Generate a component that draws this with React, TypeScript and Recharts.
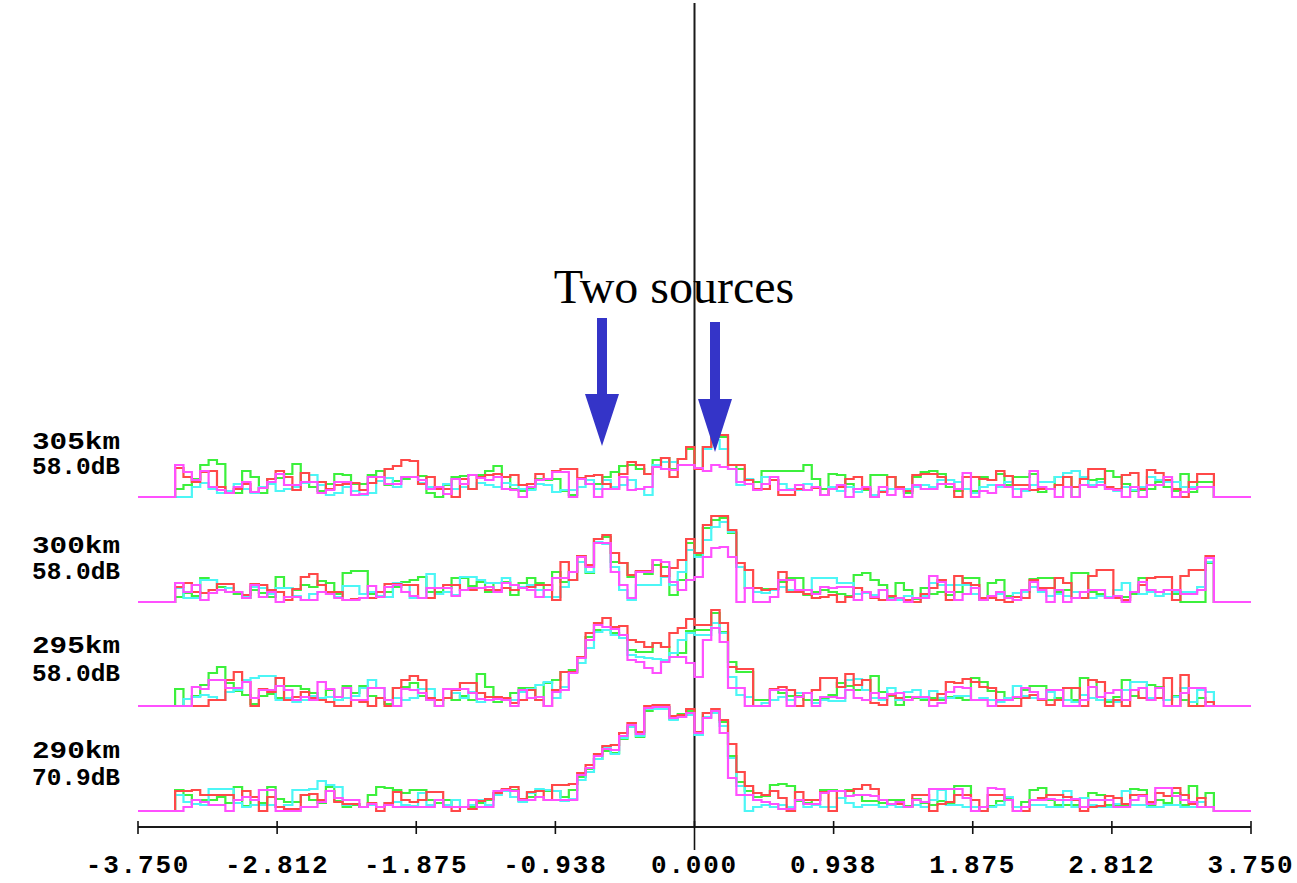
import React from 'react';
import { ComposedChart, Line, XAxis, YAxis, ReferenceLine } from 'recharts';

// ---------- axis ----------
const X_MIN = -3.75;
const X_MAX = 3.75;
const BIN_START = -3.5;
const BIN_END = 3.5;
const tickValues = [-3.75, -2.8125, -1.875, -0.9375, 0, 0.9375, 1.875, 2.8125, 3.75];
const tickLabels = ['-3.750', '-2.812', '-1.875', '-0.938', '0.000', '0.938', '1.875', '2.812', '3.750'];

// ---------- panels (range / gain) ----------
const panelRanges = ['305km', '300km', '295km', '290km'];
const panelGains = ['58.0dB', '58.0dB', '58.0dB', '70.9dB'];
// waterfall offset of each trace's zero level (y units)
const panelLevels = [330, 225, 121, 16];

// ---------- series values (124 bins each) ----------
const green305 = [
  8, 12, 18, 32, 37, 33, 6, 4, 26, 20,
  4, 18, 19, 23, 33, 15, 10, 6, 13, 23,
  22, 13, 13, 22, 26, 12, 16, 18, 20, 21,
  4, 0, 12, 20, 21, 22, 22, 26, 31, 20,
  8, 6, 8, 18, 17, 18, 6, 2, 18, 13,
  13, 20, 25, 31, 32, 28, 23, 37, 39, 28,
  38, 48, 28, 50, 60, 60, 32, 28, 17, 15,
  26, 26, 26, 26, 26, 32, 18, 8, 23, 22,
  13, 8, 7, 22, 22, 20, 8, 4, 20, 25,
  26, 23, 10, 6, 8, 6, 20, 17, 23, 12,
  20, 20, 23, 5, 8, 20, 20, 0, 12, 17,
  18, 26, 20, 13, 6, 7, 8, 15, 10, 6,
  23, 5, 15, 15,
];
const cyan305 = [
  0, 0, 10, 14, 8, 4, 6, 13, 8, 4,
  10, 13, 6, 8, 10, 14, 22, 12, 2, 4,
  10, 6, 2, 4, 16, 19, 10, 20, 20, 14,
  10, 10, 13, 8, 10, 8, 14, 12, 10, 14,
  12, 8, 7, 13, 12, 5, 7, 7, 10, 17,
  8, 17, 10, 12, 17, 8, 2, 32, 35, 35,
  32, 32, 28, 48, 57, 48, 28, 12, 18, 8,
  20, 17, 13, 8, 7, 13, 10, 2, 10, 6,
  10, 5, 8, 2, 6, 8, 8, 8, 10, 12,
  10, 17, 17, 15, 8, 4, 10, 12, 10, 15,
  8, 6, 12, 15, 15, 20, 24, 26, 20, 12,
  15, 8, 6, 10, 7, 10, 20, 17, 15, 15,
  10, 10, 10, 10,
];
const red305 = [
  29, 20, 15, 25, 26, 10, 4, 8, 13, 5,
  9, 18, 26, 20, 7, 24, 15, 15, 8, 12,
  13, 14, 7, 14, 20, 28, 31, 37, 36, 13,
  20, 8, 8, 0, 18, 8, 20, 22, 23, 20,
  22, 12, 13, 23, 18, 26, 28, 28, 19, 21,
  22, 13, 8, 23, 35, 32, 23, 30, 39, 20,
  38, 50, 28, 50, 62, 62, 32, 32, 17, 8,
  8, 17, 2, 2, 8, 7, 9, 2, 8, 10,
  18, 20, 8, 0, 5, 20, 10, 6, 22, 23,
  23, 20, 13, 0, 20, 20, 18, 17, 26, 21,
  12, 12, 7, 8, 8, 12, 20, 10, 18, 28,
  28, 10, 8, 22, 24, 8, 27, 24, 17, 8,
  0, 15, 23, 23,
];
const magenta305 = [
  32, 25, 17, 26, 10, 7, 4, 10, 15, 5,
  9, 15, 23, 12, 12, 15, 15, 4, 7, 15,
  15, 2, 3, 20, 20, 13, 13, 20, 20, 17,
  8, 10, 3, 18, 13, 22, 19, 17, 20, 8,
  7, 0, 10, 17, 18, 25, 25, 0, 18, 13,
  0, 8, 8, 20, 7, 8, 10, 30, 28, 27,
  32, 32, 29, 26, 32, 30, 28, 15, 13, 7,
  13, 20, 7, 7, 12, 7, 10, 2, 8, 12,
  0, 8, 10, 0, 10, 2, 8, 0, 12, 8,
  8, 13, 13, 8, 24, 0, 6, 4, 12, 10,
  0, 8, 26, 10, 8, 0, 10, 0, 12, 10,
  12, 8, 7, 0, 10, 0, 12, 12, 20, 0,
  5, 8, 10, 10,
];

const green300 = [
  5, 9, 6, 24, 22, 15, 10, 8, 4, 12,
  9, 5, 25, 14, 12, 17, 15, 21, 19, 8,
  29, 31, 31, 8, 5, 10, 15, 20, 22, 25,
  10, 10, 14, 24, 24, 16, 20, 10, 19, 20,
  7, 19, 24, 19, 12, 30, 20, 30, 46, 29,
  63, 65, 40, 39, 25, 30, 28, 37, 35, 7,
  22, 59, 47, 74, 82, 84, 69, 35, 14, 14,
  13, 13, 20, 24, 24, 7, 10, 12, 10, 8,
  6, 27, 29, 22, 17, 5, 19, 12, 3, 14,
  8, 10, 7, 10, 24, 24, 2, 19, 22, 6,
  5, 10, 23, 24, 24, 10, 12, 29, 29, 10,
  8, 4, 4, 5, 8, 24, 12, 10, 8, 8,
  0, 0, 0, 39,
];
const cyan300 = [
  14, 4, 4, 22, 22, 12, 14, 10, 6, 15,
  14, 8, 14, 14, 6, 2, 8, 10, 10, 5,
  16, 16, 8, 10, 6, 5, 19, 17, 4, 4,
  28, 8, 10, 7, 25, 25, 22, 19, 19, 24,
  12, 15, 17, 12, 5, 5, 15, 22, 40, 30,
  60, 58, 35, 12, 2, 17, 17, 17, 25, 17,
  30, 52, 45, 62, 75, 80, 70, 35, 14, 10,
  9, 12, 15, 12, 10, 12, 24, 24, 24, 19,
  19, 8, 9, 7, 12, 3, 2, 6, 0, 6,
  19, 17, 17, 17, 17, 8, 4, 6, 8, 4,
  9, 10, 15, 10, 6, 8, 6, 10, 10, 4,
  6, 5, 12, 19, 10, 8, 10, 6, 8, 10,
  10, 10, 15, 40,
];
const red300 = [
  15, 19, 10, 9, 12, 18, 18, 10, 7, 18,
  17, 12, 10, 2, 13, 25, 28, 17, 10, 10,
  2, 3, 4, 4, 10, 18, 18, 17, 17, 4,
  4, 14, 17, 17, 12, 12, 14, 12, 12, 14,
  12, 14, 15, 17, 17, 2, 40, 22, 46, 37,
  63, 67, 49, 39, 27, 31, 31, 42, 26, 34,
  42, 63, 49, 77, 86, 86, 72, 39, 32, 14,
  12, 13, 30, 10, 10, 8, 4, 5, 7, 0,
  5, 14, 10, 4, 2, 6, 4, 2, 0, 8,
  14, 22, 2, 26, 19, 17, 4, 4, 2, 0,
  5, 4, 22, 14, 14, 24, 19, 4, 4, 26,
  32, 32, 4, 2, 10, 17, 24, 25, 25, 2,
  26, 32, 32, 46,
];
const magenta300 = [
  19, 10, 17, 2, 9, 12, 10, 10, 4, 17,
  5, 10, 0, 5, 5, 2, 2, 10, 8, 4,
  2, 2, 4, 16, 5, 15, 17, 10, 6, 4,
  14, 14, 14, 6, 12, 14, 14, 15, 10, 19,
  17, 14, 12, 5, 12, 24, 24, 30, 45, 35,
  59, 59, 30, 17, 4, 30, 30, 42, 40, 20,
  12, 22, 25, 45, 54, 55, 45, 0, 14, 0,
  0, 5, 22, 22, 12, 12, 8, 15, 14, 15,
  15, 2, 10, 5, 12, 2, 4, 0, 4, 4,
  26, 20, 10, 2, 8, 14, 2, 6, 10, 4,
  2, 12, 20, 12, 0, 12, 0, 4, 10, 12,
  12, 4, 6, 0, 10, 20, 12, 10, 12, 12,
  8, 8, 12, 44,
];

const green295 = [
  17, 0, 10, 21, 33, 39, 23, 15, 11, 2,
  10, 12, 8, 20, 20, 17, 13, 8, 16, 6,
  20, 13, 20, 10, 8, 2, 18, 19, 23, 10,
  6, 0, 8, 6, 10, 6, 32, 19, 4, 6,
  13, 18, 18, 6, 23, 26, 34, 36, 48, 69,
  76, 76, 73, 71, 56, 54, 54, 63, 59, 49,
  53, 75, 76, 76, 93, 74, 44, 34, 34, 6,
  6, 16, 13, 10, 10, 6, 6, 8, 11, 23,
  20, 16, 16, 30, 14, 10, 1, 9, 8, 6,
  8, 6, 9, 8, 6, 28, 24, 15, 14, 8,
  8, 16, 20, 20, 6, 8, 18, 6, 28, 26,
  6, 4, 9, 26, 10, 8, 21, 19, 6, 10,
  6, 0, 8, 4,
];
const cyan295 = [
  0, 7, 9, 11, 9, 6, 14, 16, 26, 28,
  30, 30, 6, 8, 4, 6, 10, 8, 9, 6,
  8, 10, 18, 26, 18, 6, 8, 6, 8, 17,
  17, 6, 8, 13, 8, 14, 4, 6, 8, 8,
  6, 14, 17, 21, 24, 8, 19, 34, 43, 58,
  74, 76, 71, 68, 51, 49, 48, 47, 46, 53,
  66, 73, 71, 71, 83, 73, 29, 11, 9, 0,
  3, 6, 9, 6, 13, 13, 3, 6, 5, 5,
  26, 27, 16, 8, 6, 18, 6, 14, 16, 8,
  15, 8, 8, 10, 10, 6, 8, 6, 4, 8,
  20, 10, 8, 6, 14, 6, 6, 4, 11, 8,
  6, 6, 4, 16, 24, 24, 8, 8, 6, 9,
  18, 4, 16, 14,
];
const red295 = [
  0, 0, 0, 0, 6, 6, 26, 34, 24, 0,
  17, 14, 28, 6, 9, 14, 8, 6, 4, 0,
  0, 6, 4, 0, 8, 0, 18, 26, 30, 26,
  8, 6, 8, 16, 23, 23, 13, 9, 9, 8,
  3, 6, 16, 6, 0, 16, 34, 34, 49, 73,
  83, 88, 79, 80, 66, 64, 59, 63, 59, 73,
  78, 87, 81, 81, 96, 83, 39, 37, 37, 0,
  0, 17, 19, 16, 0, 13, 16, 28, 28, 19,
  32, 21, 26, 3, 1, 11, 8, 6, 9, 9,
  6, 12, 24, 23, 27, 24, 19, 18, 0, 0,
  0, 8, 11, 6, 1, 6, 18, 18, 0, 26,
  24, 0, 6, 0, 16, 8, 6, 8, 28, 0,
  31, 0, 0, 4,
];
const magenta295 = [
  0, 0, 19, 17, 26, 26, 18, 18, 24, 8,
  16, 16, 20, 16, 6, 9, 6, 24, 17, 9,
  18, 6, 6, 18, 18, 6, 0, 17, 16, 13,
  6, 0, 17, 17, 17, 13, 7, 6, 7, 6,
  0, 16, 8, 9, 0, 14, 16, 33, 48, 66,
  81, 79, 77, 71, 46, 44, 38, 33, 44, 49,
  49, 43, 29, 66, 78, 64, 18, 18, 0, 0,
  0, 16, 16, 0, 9, 13, 0, 9, 9, 8,
  16, 8, 6, 13, 8, 12, 13, 6, 9, 9,
  0, 3, 14, 19, 18, 6, 6, 0, 6, 6,
  9, 18, 14, 7, 16, 16, 0, 0, 6, 19,
  9, 13, 16, 6, 16, 18, 6, 18, 0, 0,
  13, 18, 18, 0,
];

const green290 = [
  21, 16, 7, 11, 11, 14, 8, 24, 5, 11,
  8, 24, 12, 9, 9, 16, 11, 8, 24, 10,
  4, 6, 4, 16, 24, 23, 21, 18, 21, 21,
  11, 8, 11, 4, 4, 4, 8, 11, 18, 21,
  21, 10, 14, 20, 20, 20, 14, 21, 34, 42,
  52, 60, 58, 72, 84, 74, 100, 104, 104, 92,
  97, 100, 78, 98, 100, 89, 55, 29, 20, 14,
  15, 26, 27, 25, 10, 8, 11, 21, 21, 13,
  21, 16, 10, 10, 8, 11, 11, 5, 12, 8,
  6, 10, 8, 25, 25, 4, 4, 5, 10, 12,
  4, 9, 21, 23, 11, 6, 6, 6, 4, 18,
  16, 6, 6, 6, 22, 21, 6, 11, 8, 18,
  6, 25, 13, 18,
];
const cyan290 = [
  16, 9, 7, 6, 22, 22, 22, 8, 4, 6,
  6, 6, 4, 6, 21, 21, 22, 30, 26, 24,
  6, 7, 4, 6, 4, 8, 9, 6, 5, 18,
  6, 11, 6, 11, 4, 6, 11, 6, 16, 20,
  14, 9, 18, 22, 21, 20, 10, 12, 31, 39,
  52, 64, 57, 73, 84, 75, 102, 102, 102, 91,
  94, 96, 76, 94, 98, 85, 53, 25, 0, 4,
  6, 4, 6, 4, 11, 4, 6, 4, 4, 13,
  8, 4, 6, 6, 4, 6, 4, 4, 6, 4,
  11, 21, 6, 6, 4, 4, 0, 4, 6, 14,
  4, 4, 6, 6, 4, 4, 20, 4, 13, 6,
  4, 4, 7, 20, 6, 6, 4, 4, 6, 6,
  4, 4, 9, 4,
];
const red290 = [
  20, 20, 21, 16, 16, 16, 16, 11, 20, 14,
  0, 14, 4, 2, 2, 16, 17, 11, 20, 9,
  7, 7, 4, 8, 0, 8, 19, 11, 9, 11,
  19, 19, 4, 0, 4, 2, 10, 12, 18, 22,
  24, 12, 19, 20, 11, 26, 26, 27, 38, 46,
  57, 65, 66, 78, 88, 79, 105, 106, 106, 95,
  96, 102, 79, 98, 102, 91, 67, 39, 25, 18,
  16, 20, 13, 0, 19, 11, 11, 19, 0, 20,
  20, 22, 26, 22, 11, 7, 7, 4, 16, 16,
  0, 7, 9, 16, 16, 11, 0, 16, 16, 11,
  0, 0, 11, 13, 16, 16, 14, 11, 0, 4,
  5, 15, 13, 7, 16, 16, 9, 18, 15, 23,
  16, 7, 13, 4,
];
const magenta290 = [
  0, 4, 11, 9, 6, 6, 0, 11, 14, 11,
  21, 21, 0, 0, 0, 4, 4, 9, 20, 13,
  11, 11, 4, 7, 4, 6, 4, 4, 4, 4,
  4, 11, 4, 4, 4, 11, 4, 4, 20, 21,
  20, 11, 11, 14, 11, 11, 11, 11, 36, 43,
  55, 62, 61, 75, 86, 77, 103, 104, 104, 93,
  94, 98, 78, 93, 100, 78, 33, 16, 16, 11,
  9, 7, 2, 2, 11, 7, 7, 18, 20, 20,
  15, 16, 16, 15, 11, 7, 9, 4, 11, 9,
  22, 22, 22, 22, 13, 0, 4, 23, 22, 11,
  0, 4, 11, 11, 12, 11, 11, 12, 4, 11,
  11, 11, 4, 4, 11, 15, 7, 23, 23, 15,
  11, 9, 4, 4,
];

const panelData = [
  { green: green305, cyan: cyan305, red: red305, magenta: magenta305 },
  { green: green300, cyan: cyan300, red: red300, magenta: magenta300 },
  { green: green295, cyan: cyan295, red: red295, magenta: magenta295 },
  { green: green290, cyan: cyan290, red: red290, magenta: magenta290 },
];

const colorOrder = ['green', 'cyan', 'red', 'magenta'] as const;
const strokeColors: Record<string, string> = {
  green: '#3cf03c',
  cyan: '#4cf6f6',
  red: '#ff4848',
  magenta: '#ff50ff',
};

// ---------- build step rows ----------
function buildRows() {
  const nBins = panelData[0].green.length;
  const w = (BIN_END - BIN_START) / nBins;
  const rows: Record<string, number>[] = [];
  const base = (x: number) => {
    const r: Record<string, number> = { x };
    panelData.forEach((p, pi) => {
      colorOrder.forEach((c) => {
        r[`p${pi}_${c}`] = panelLevels[pi];
      });
    });
    return r;
  };
  rows.push(base(X_MIN));
  for (let k = 0; k < nBins; k++) {
    const r: Record<string, number> = { x: BIN_START + k * w };
    panelData.forEach((p, pi) => {
      colorOrder.forEach((c) => {
        const v = (p as any)[c][k];
        r[`p${pi}_${c}`] = panelLevels[pi] + (v == null ? 0 : v);
      });
    });
    rows.push(r);
  }
  rows.push(base(BIN_END));
  rows.push(base(X_MAX));
  return rows;
}
const rows = buildRows();

const MONO = '"Liberation Mono", "DejaVu Sans Mono", monospace';

const AxisTick = (props: any) => {
  const { x, y, payload } = props;
  const i = tickValues.indexOf(payload.value);
  const isZero = payload.value === 0;
  return (
    <g>
      <line x1={x} x2={x} y1={y - 6} y2={isZero ? y + 23 : y + 7} stroke="#111" strokeWidth={1.6} />
      <text
        x={x}
        y={y + 46}
        textAnchor="middle"
        fontFamily={MONO}
        fontWeight="bold"
        fontSize={26}
        style={{ letterSpacing: '1.8px' }}
        fill="#000"
      >
        {tickLabels[i]}
      </text>
    </g>
  );
};

const labelY1 = [449, 553, 653, 758];
const labelY2 = [474, 579, 681, 785];

const arrowColor = '#3434c8';

export default function App() {
  return (
    <div style={{ position: 'absolute', left: 0, top: 0, width: 1297, height: 883, background: '#fff' }}>
      <ComposedChart
        width={1297}
        height={883}
        data={rows}
        margin={{ top: 3, right: 46, bottom: 0, left: 138 }}
      >
        <XAxis
          dataKey="x"
          type="number"
          domain={[X_MIN, X_MAX]}
          ticks={tickValues}
          interval={0}
          allowDataOverflow
          height={56}
          tickLine={false}
          tickSize={0}
          tickMargin={0}
          axisLine={{ stroke: '#1a1a1a', strokeWidth: 2 }}
          tick={<AxisTick />}
        />
        <YAxis hide type="number" domain={[0, 824]} allowDataOverflow />
        <ReferenceLine x={0} stroke="#1a1a1a" strokeWidth={2} />
        {panelData.map((_, pi) =>
          colorOrder.map((c) => (
            <Line
              key={`p${pi}_${c}`}
              dataKey={`p${pi}_${c}`}
              type="stepAfter"
              stroke={strokeColors[c]}
              strokeWidth={2.2}
              dot={false}
              activeDot={false}
              isAnimationActive={false}
              strokeLinejoin="miter"
            />
          ))
        )}
      </ComposedChart>
      <svg
        width={1297}
        height={883}
        style={{ position: 'absolute', left: 0, top: 0, pointerEvents: 'none' }}
      >
        {panelRanges.map((r, i) => (
          <g key={r}>
            <text x={32} y={labelY1[i]} textLength={88} lengthAdjust="spacingAndGlyphs" fontFamily={MONO} fontWeight="bold" fontSize={23} fill="#000">
              {r}
            </text>
            <text x={32} y={labelY2[i]} textLength={88} lengthAdjust="spacingAndGlyphs" fontFamily={MONO} fontWeight="bold" fontSize={23} fill="#000">
              {panelGains[i]}
            </text>
          </g>
        ))}
        <text x={674} y={303} textAnchor="middle" fontFamily='"Liberation Serif", "Times New Roman", serif' fontSize={48} fill="#000">
          Two sources
        </text>
        <polygon points="597,318 607,318 607,394 619,394 602,446 585,394 597,394" fill={arrowColor} />
        <polygon points="710,322 720,322 720,399 732,399 715,452 698,399 710,399" fill={arrowColor} />
      </svg>
    </div>
  );
}
